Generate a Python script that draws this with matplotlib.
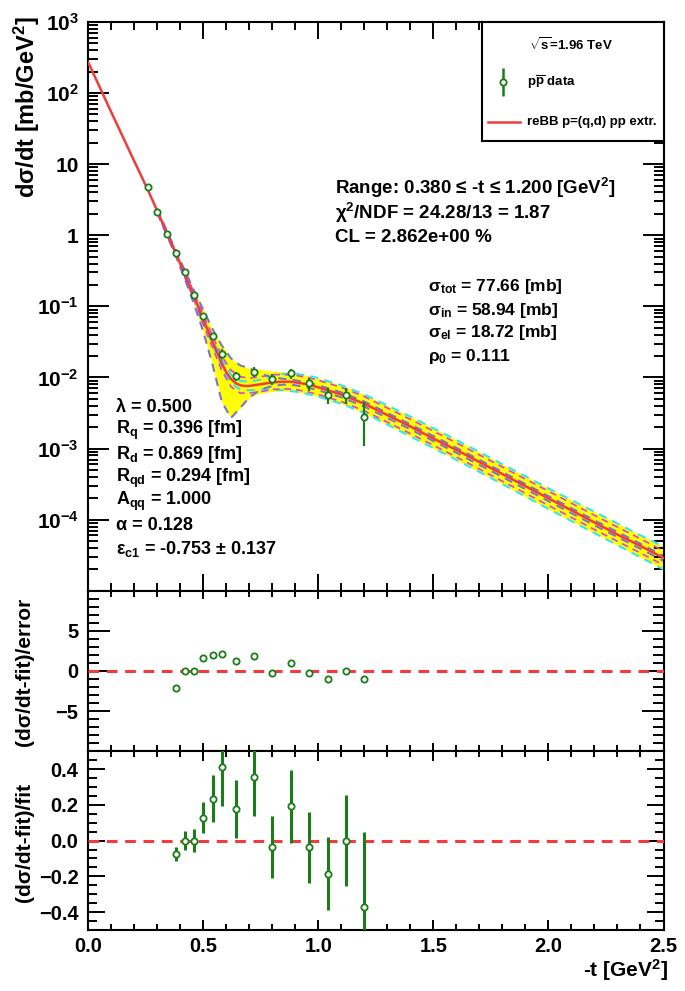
import numpy as np
import matplotlib
matplotlib.use('Agg')
import matplotlib.pyplot as plt
from matplotlib.ticker import FixedLocator, MultipleLocator, LogLocator, NullFormatter, FixedFormatter

plt.rcParams['font.family'] = ['Liberation Sans', 'DejaVu Sans']
plt.rcParams['font.weight'] = 'bold'
plt.rcParams['mathtext.fontset'] = 'custom'
plt.rcParams['mathtext.rm'] = 'Liberation Sans:bold'
plt.rcParams['mathtext.it'] = 'Liberation Sans:bold'
plt.rcParams['mathtext.bf'] = 'Liberation Sans:bold'
plt.rcParams['mathtext.default'] = 'rm'

# measured p-pbar data (D0, 1.96 TeV)
data_t = [0.26, 0.30, 0.34, 0.38, 0.42, 0.46, 0.50, 0.54, 0.58, 0.64, 0.72, 0.80, 0.88, 0.96, 1.04, 1.12, 1.20]
data_y = [4.70, 2.13, 1.05, 0.564, 0.302, 0.143, 0.0740, 0.0387, 0.0216, 0.0105, 0.0120,
          0.0095, 0.0114, 0.00825, 0.00565, 0.00571, 0.00279]
data_err = [0.14, 0.06, 0.03, 0.0244, 0.0157, 0.0093, 0.00564, 0.00407, 0.00331, 0.00146, 0.00191,
            0.00171, 0.00193, 0.0017, 0.00141, 0.00144, 0.00170]

# fit curve (log10 of dsigma/dt)
fit_t = [0.0, 0.1, 0.2, 0.26, 0.30, 0.34, 0.38, 0.42, 0.46, 0.50, 0.54, 0.56, 0.58, 0.60, 0.62, 0.64,
         0.66, 0.68, 0.70, 0.72, 0.76, 0.80, 0.84, 0.88, 0.92, 0.96, 1.00, 1.05, 1.10, 1.20, 1.30,
         1.40, 1.50, 1.60, 1.70, 1.80, 1.90, 2.00, 2.10, 2.20, 2.30, 2.40, 2.50]
fit_log = [2.43, 1.73, 1.04, 0.63, 0.34, 0.04, -0.25, -0.56, -0.86, -1.19, -1.50, -1.65, -1.80, -1.93,
           -2.02, -2.08, -2.11, -2.12, -2.12, -2.11, -2.09, -2.07, -2.06, -2.06, -2.08, -2.10, -2.14,
           -2.19, -2.24, -2.37, -2.53, -2.69, -2.86, -3.02, -3.19, -3.36, -3.53, -3.70, -3.87, -4.04,
           -4.21, -4.37, -4.54]

# uncertainty band and parameter-variation curves (log10)
band_t = [0.30, 0.34, 0.38, 0.42, 0.46, 0.50, 0.54, 0.58, 0.62, 0.66, 0.70, 0.75, 0.80, 0.85, 0.90,
          0.95, 1.0, 1.1, 1.2, 1.4, 1.6, 1.8, 2.0, 2.2, 2.4, 2.5]
band_hi = [0.37, 0.07, -0.21, -0.50, -0.78, -1.05, -1.32, -1.55, -1.73, -1.83, -1.87, -1.89, -1.91, -1.92,
           -1.94, -1.97, -2.01, -2.11, -2.24, -2.55, -2.88, -3.22, -3.56, -3.89, -4.22, -4.38]
band_lo = [0.31, 0.01, -0.29, -0.62, -0.97, -1.36, -1.82, -2.34, -2.57, -2.43, -2.28, -2.22, -2.20, -2.19,
           -2.20, -2.23, -2.27, -2.37, -2.50, -2.83, -3.16, -3.50, -3.85, -4.19, -4.53, -4.70]
blue_hi = [0.37, 0.07, -0.21, -0.50, -0.78, -1.05, -1.32, -1.55, -1.73, -1.83, -1.87, -1.95, -2.00, -2.02,
           -2.04, -2.07, -2.11, -2.21, -2.34, -2.66, -2.99, -3.33, -3.67, -4.01, -4.34, -4.51]
blue_lo = [0.31, 0.01, -0.29, -0.62, -0.97, -1.36, -1.82, -2.34, -2.57, -2.43, -2.28, -2.17, -2.12, -2.10,
           -2.11, -2.14, -2.18, -2.28, -2.41, -2.73, -3.06, -3.40, -3.74, -4.08, -4.41, -4.58]
cyan_hi = [0.35, 0.05, -0.24, -0.54, -0.84, -1.16, -1.46, -1.75, -1.96, -2.05, -2.06, -2.03, -1.98, -1.95,
           -1.95, -1.97, -2.01, -2.11, -2.24, -2.55, -2.88, -3.22, -3.56, -3.89, -4.22, -4.38]
cyan_lo = [0.33, 0.03, -0.26, -0.58, -0.88, -1.22, -1.54, -1.85, -2.08, -2.17, -2.18, -2.17, -2.17, -2.18,
           -2.20, -2.23, -2.27, -2.37, -2.50, -2.83, -3.16, -3.50, -3.85, -4.19, -4.53, -4.70]
mag_hi = [0.36, 0.06, -0.23, -0.52, -0.81, -1.12, -1.42, -1.70, -1.90, -1.99, -2.01, -1.99, -1.96, -1.96,
          -1.97, -2.00, -2.04, -2.14, -2.27, -2.59, -2.92, -3.26, -3.60, -3.94, -4.27, -4.44]
mag_lo = [0.32, 0.02, -0.27, -0.60, -0.91, -1.26, -1.58, -1.90, -2.13, -2.22, -2.22, -2.20, -2.17, -2.16,
          -2.17, -2.20, -2.24, -2.34, -2.47, -2.79, -3.12, -3.46, -3.80, -4.14, -4.47, -4.64]

# residuals in the fit range
res_t = [0.38, 0.42, 0.46, 0.50, 0.54, 0.58, 0.64, 0.72, 0.80, 0.88, 0.96, 1.04, 1.12, 1.20]
res_pull = [-2.1, 0.0, 0.0, 1.65, 2.0, 2.14, 1.19, 1.81, -0.25, 1.03, -0.25, -1.03, 0.0, -0.99]
res_rel = [-0.074, 0.0, 0.0, 0.128, 0.235, 0.409, 0.176, 0.354, -0.035, 0.191, -0.037, -0.185, 0.0, -0.370]
res_rel_err = [0.040, 0.052, 0.065, 0.086, 0.130, 0.216, 0.163, 0.215, 0.174, 0.202, 0.198, 0.203, 0.253, 0.420]

GREEN = '#1a7d1a'
RED = '#f23c3c'
W, H = 685, 991

fig = plt.figure(figsize=(6.85, 9.91), dpi=100)
L, R = 88.3 / W, 663.5 / W
ax = fig.add_axes([L, 1 - 590.7 / H, R - L, (590.7 - 22) / H])
ax1 = fig.add_axes([L, 1 - 751.2 / H, R - L, (751.2 - 590.7) / H])
ax2 = fig.add_axes([L, 1 - 930 / H, R - L, (930 - 751.2) / H])

# main panel
ax.fill_between(band_t, 10 ** np.array(band_lo), 10 ** np.array(band_hi), color='#ffff00', lw=0, zorder=1)
for c, col, lw in [(cyan_hi, '#33e6f0', 1.5), (cyan_lo, '#33e6f0', 1.5), (mag_hi, '#e040e0', 1.2),
                   (mag_lo, '#e040e0', 1.2), (blue_hi, '#7777cc', 1.5), (blue_lo, '#7777cc', 1.5)]:
    ax.plot(band_t, 10 ** np.array(c), color=col, lw=lw, ls=(0, (4, 3)), zorder=2)
ax.plot(fit_t, 10 ** np.array(fit_log), color=RED, lw=1.8, zorder=3)
ax.errorbar(data_t, data_y, yerr=data_err, fmt='o', ms=4.5, mfc='white', mec=GREEN, mew=1.3,
            ecolor=GREEN, elinewidth=1.6, capsize=0, zorder=4)
ax.set_yscale('log')
ax.set_ylim(1e-5, 1e3)
ax.set_xlim(0, 2.5)
ax.yaxis.set_major_locator(FixedLocator([1e-4, 1e-3, 1e-2, 1e-1, 1, 10, 1e2, 1e3]))
ax.yaxis.set_major_formatter(FixedFormatter(['10$^{\u22124}$', '10$^{\u22123}$', '10$^{\u22122}$', '10$^{\u22121}$',
                                             '1', '10', '10$^{2}$', '10$^{3}$']))
ax.yaxis.set_minor_locator(LogLocator(base=10, subs=np.arange(2, 10), numticks=20))
ax.yaxis.set_minor_formatter(NullFormatter())

# pull panel
ax1.plot(res_t, res_pull, 'o', ms=4.5, mfc='white', mec=GREEN, mew=1.3, zorder=4)
ax1.axhline(0, color=RED, lw=2.2, ls=(0, (3.5, 2.5)), zorder=3)
ax1.set_xlim(0, 2.5)
ax1.set_ylim(-10, 10)
ax1.yaxis.set_major_locator(FixedLocator([-5, 0, 5]))
ax1.yaxis.set_major_formatter(FixedFormatter(['\u22125', '0', '5']))
ax1.yaxis.set_minor_locator(MultipleLocator(1))

# relative residual panel
ax2.errorbar(res_t, res_rel, yerr=res_rel_err, fmt='o', ms=4.5, mfc='white', mec=GREEN, mew=1.3,
             ecolor=GREEN, elinewidth=2.2, capsize=0, zorder=4)
ax2.axhline(0, color=RED, lw=2.2, ls=(0, (3.5, 2.5)), zorder=3)
ax2.set_xlim(0, 2.5)
ax2.set_ylim(-0.5, 0.5)
ax2.yaxis.set_major_locator(FixedLocator([-0.4, -0.2, 0.0, 0.2, 0.4]))
ax2.yaxis.set_major_formatter(FixedFormatter(['\u22120.4', '\u22120.2', '0.0', '0.2', '0.4']))
ax2.yaxis.set_minor_locator(MultipleLocator(0.05))
ax2.xaxis.set_major_locator(FixedLocator([0, 0.5, 1.0, 1.5, 2.0, 2.5]))
ax2.xaxis.set_major_formatter(FixedFormatter(['0.0', '0.5', '1.0', '1.5', '2.0', '2.5']))

for a in (ax, ax1, ax2):
    for s in a.spines.values():
        s.set_linewidth(1.5)
    a.xaxis.set_minor_locator(MultipleLocator(0.1))
    a.tick_params(which='both', direction='in', top=True, right=True, labelsize=14.5, width=1.4)
    a.tick_params(axis='y', pad=7)
    a.tick_params(axis='x', pad=5)
ax.xaxis.set_major_locator(MultipleLocator(0.5))
ax1.xaxis.set_major_locator(MultipleLocator(0.5))
ax.tick_params(axis='y', labelsize=15)
ax.tick_params(axis='x', which='major', length=12, labelbottom=False)
ax.tick_params(axis='x', which='minor', length=6)
ax.tick_params(axis='y', which='major', length=15)
ax.tick_params(axis='y', which='minor', length=7)
ax1.tick_params(axis='x', which='major', length=6, labelbottom=False)
ax1.tick_params(axis='x', which='minor', length=4)
ax1.tick_params(axis='y', which='major', length=16)
ax1.tick_params(axis='y', which='minor', length=8)
ax2.tick_params(axis='x', which='major', length=7)
ax2.tick_params(axis='x', which='minor', length=4)
ax2.tick_params(axis='y', which='major', length=12)
ax2.tick_params(axis='y', which='minor', length=6.5)

# axis titles
fig.text(27 / W, 1 - 107 / H, 'd\u03c3/dt [mb/GeV$^{2}$]', rotation=90, ha='center', va='center', fontsize=17)
fig.text(25 / W, 1 - 672 / H, '(d\u03c3/dt-fit)/error', rotation=90, ha='center', va='center', fontsize=15)
fig.text(25 / W, 1 - 842 / H, '(d\u03c3/dt-fit)/fit', rotation=90, ha='center', va='center', fontsize=15)
fig.text(668 / W, 1 - 970 / H, '-t [GeV$^{2}$]', ha='right', va='center', fontsize=15)

# fit info
info_right = ['Range: 0.380 \u2264 -t \u2264 1.200 [GeV$^{2}$]',
              '\u03c7$^{2}$/NDF = 24.28/13 = 1.87',
              'CL = 2.862e+00 %']
for i, s in enumerate(info_right):
    fig.text(335 / W, 1 - (188 + 24.5 * i) / H, s, ha='left', va='center', fontsize=13.5)
xsec = ['\u03c3$_{tot}$ = 77.66 [mb]', '\u03c3$_{in}$ = 58.94 [mb]',
        '\u03c3$_{el}$ = 18.72 [mb]', '\u03c1$_{0}$ = 0.111']
for i, s in enumerate(xsec):
    fig.text(428 / W, 1 - (287 + 23 * i) / H, s, ha='left', va='center', fontsize=12.5)
pars = ['\u03bb = 0.500', 'R$_{q}$ = 0.396 [fm]', 'R$_{d}$ = 0.869 [fm]', 'R$_{qd}$ = 0.294 [fm]',
        'A$_{qq}$ = 1.000', '\u03b1 = 0.128', '\u03b5$_{c1}$ = -0.753 \u00b1 0.137']
for i, s in enumerate(pars):
    fig.text(116 / W, 1 - (407 + 23.7 * i) / H, s, ha='left', va='center', fontsize=13)

# legend box
lg = fig.add_axes([482 / W, 1 - 141 / H, (664 - 482) / W, (141 - 22) / H])
lg.set_xlim(0, 182)
lg.set_ylim(119, 0)
lg.set_xticks([])
lg.set_yticks([])
for s in lg.spines.values():
    s.set_linewidth(1.5)
lg.text(89, 23, '$\\sqrt{s}$=1.96 TeV', ha='center', va='center', fontsize=9.5)
lg.errorbar([21], [60], yerr=[14], fmt='o', ms=4.5, mfc='white', mec=GREEN, mew=1.3,
            ecolor=GREEN, elinewidth=1.8, capsize=0)
lg.text(45, 60, 'p$\\overline{\\rm p}$ data', ha='left', va='center', fontsize=9.5)
lg.plot([6, 38], [100, 100], color=RED, lw=1.8)
lg.text(45, 100, 'reBB p=(q,d) pp extr.', ha='left', va='center', fontsize=9.5)

fig.savefig('out.png', dpi=100)
